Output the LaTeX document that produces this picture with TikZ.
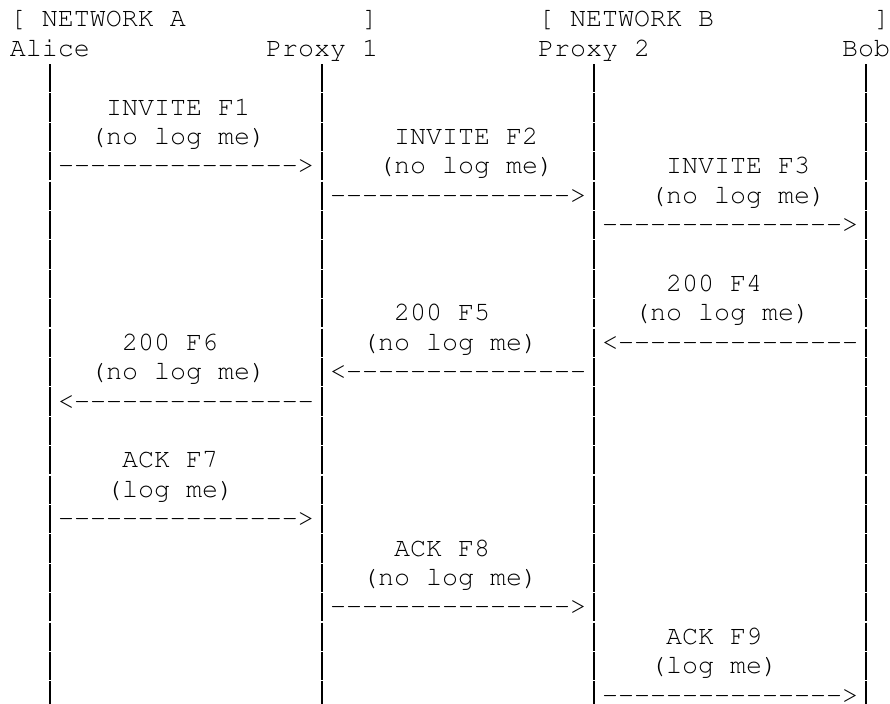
\documentclass[tikz,border=0pt]{standalone}
\usepackage[T1]{fontenc}
\usepackage{courier}
\newcommand\asc[4]{\node[ascii] (#1) at ({10+16*#2},{115+29.4*(#3-4)}) {#4};}
\newcommand\rdash{-{}-{}-{}-{}-{}-{}-{}-{}-{}-{}-{}-{}-{}-{}-{}>}
\newcommand\ldash{<{}-{}-{}-{}-{}-{}-{}-{}-{}-{}-{}-{}-{}-{}-{}-}
\begin{document}
\begin{tikzpicture}[x=0.75pt,y=-0.75pt,
  ascii/.style={font=\ttfamily\fontsize{20}{22}\selectfont, anchor=base west,
    inner sep=0pt, outer sep=0pt, text=black},
  barstroke/.style={draw=black, line width=0.82pt}]
\useasboundingbox (0,0) rectangle (890,704);
% headers
\asc{netA}{0}{1}{[ NETWORK A}
\asc{netAr}{22}{1}{]}
\asc{netB}{33}{1}{[ NETWORK B}
\asc{netBr}{54}{1}{]}
\asc{alice}{0}{2}{Alice}
\asc{proxy1}{16}{2}{Proxy 1}
\asc{proxy2}{33}{2}{Proxy 2}
\asc{bob}{52}{2}{Bob}
% lifelines: one "|" per text row, its stroke lengthened to the row height
\begin{scope}
\clip (0,0) rectangle (890,704);
\foreach \r in {3,...,24}{
  \foreach \c/\n in {2/a,19/p,36/q,53/b}{
    \coordinate (bar-\n-\r-t) at ({18+16*\c},{115+29.4*(\r-4)-21.6});
    \coordinate (bar-\n-\r-b) at ({18+16*\c},{115+29.4*(\r-4)+6.6});
    \path[barstroke] (bar-\n-\r-t) -- (bar-\n-\r-b);
  }
}
\end{scope}
\foreach \r in {3,...,24}{
  \foreach \c/\n in {2/a,19/p,36/q,53/b}{
    \node[ascii] (bar-\n-\r) at ({10+16*\c},{115+29.4*(\r-4)}) {|};
  }
}
% F1
\asc{f1a}{6}{4}{INVITE F1}
\asc{f1b}{5}{5}{(no log me)}
\asc{f1}{3}{6}{\rdash}
% F2
\asc{f2a}{24}{5}{INVITE F2}
\asc{f2b}{23}{6}{(no log me)}
\asc{f2}{20}{7}{\rdash}
% F3
\asc{f3a}{41}{6}{INVITE F3}
\asc{f3b}{40}{7}{(no log me)}
\asc{f3}{37}{8}{\rdash}
% F4
\asc{f4a}{41}{10}{200 F4}
\asc{f4b}{39}{11}{(no log me)}
\asc{f4}{37}{12}{\ldash}
% F5
\asc{f5a}{24}{11}{200 F5}
\asc{f5b}{22}{12}{(no log me)}
\asc{f5}{20}{13}{\ldash}
% F6
\asc{f6a}{7}{12}{200 F6}
\asc{f6b}{5}{13}{(no log me)}
\asc{f6}{3}{14}{\ldash}
% F7
\asc{f7a}{7}{16}{ACK F7}
\asc{f7b}{6}{17}{(log me)}
\asc{f7}{3}{18}{\rdash}
% F8
\asc{f8a}{24}{19}{ACK F8}
\asc{f8b}{22}{20}{(no log me)}
\asc{f8}{20}{21}{\rdash}
% F9
\asc{f9a}{41}{22}{ACK F9}
\asc{f9b}{40}{23}{(log me)}
\asc{f9}{37}{24}{\rdash}
\end{tikzpicture}
\end{document}
